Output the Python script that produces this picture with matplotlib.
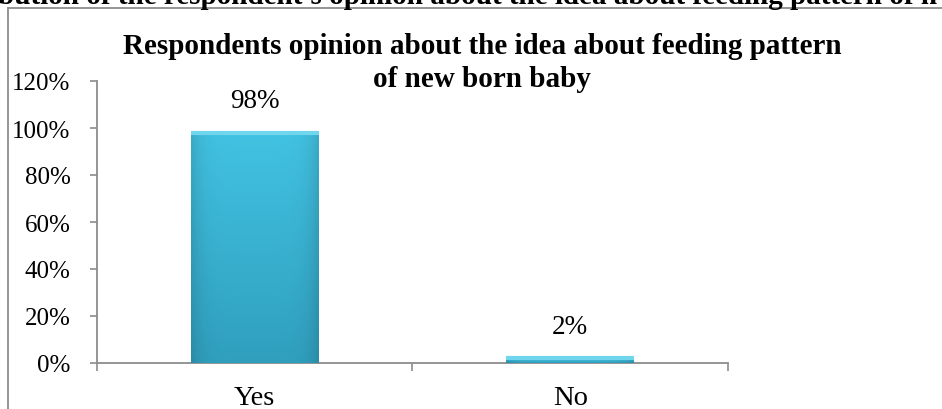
import numpy as np
import matplotlib
matplotlib.use("Agg")
import matplotlib.pyplot as plt
from matplotlib.lines import Line2D

# answers and share of respondents
categories = ["Yes", "No"]
shares = [0.98, 0.02]
share_labels = ["98%", "2%"]
yticks = [0, 0.2, 0.4, 0.6, 0.8, 1.0, 1.2]
ytick_labels = ["0%", "20%", "40%", "60%", "80%", "100%", "120%"]

title_lines = ["Respondents opinion about the idea about feeding pattern",
               "of new born baby"]
caption = "bution of the respondent's opinion about the idea about feeding pattern of n"

plt.rcParams["font.family"] = ["Liberation Serif", "DejaVu Serif"]
W, H = 942, 410
fig = plt.figure(figsize=(W / 100, H / 100), dpi=100)

# caption line running above the chart box (cut off by the page)
fig.text(-2 / W, 1 - 4 / H, caption, fontsize=21, fontweight="bold",
         ha="left", va="baseline")

# chart box frame
frame_col = "#8c8c8c"
fig.add_artist(Line2D([8 / W, 8 / W], [0, 1 - 9 / H], transform=fig.transFigure,
                      color=frame_col, lw=1.3))
fig.add_artist(Line2D([8 / W, 1], [1 - 9 / H, 1 - 9 / H], transform=fig.transFigure,
                      color=frame_col, lw=1.3))

# chart title, two centred lines
for line, ypix in zip(title_lines, [54, 87]):
    fig.text(482 / W, 1 - ypix / H, line, fontsize=21, fontweight="bold",
             ha="center", va="baseline")

ax = fig.add_axes([97 / W, 1 - 364 / H, (728 - 97) / W, (364 - 82) / H])
x = np.arange(len(categories))
bar_w = 0.405
bars = ax.bar(x, shares, width=bar_w, color="#3ab6d7", edgecolor="none", zorder=2)

# shaded fill for each bar: lighter at top, slightly darker at the sides
grad_v = np.linspace(1.0, 0.0, 64)[:, None]
grad_h = 1 - 0.12 * np.abs(np.linspace(-1, 1, 64))[None, :] ** 6
top = np.array([0x42, 0xc2, 0xe2]) / 255
bot = np.array([0x30, 0x9f, 0xbe]) / 255
img = (bot[None, None, :] + (top - bot)[None, None, :] * grad_v[..., None]) * grad_h[..., None]
for b in bars:
    x0, y0 = b.get_x(), b.get_y()
    im = ax.imshow(np.clip(img, 0, 1), extent=[x0, x0 + b.get_width(), y0, y0 + b.get_height()],
                   aspect="auto", zorder=3, interpolation="bilinear")
    im.set_clip_path(b)
    # light bevel along the top edge
    ax.plot([x0, x0 + b.get_width()], [b.get_height()] * 2, color="#6fd6ee",
            lw=3, solid_capstyle="butt", zorder=4)

for xi, v, lab in zip(x, shares, share_labels):
    ax.annotate(lab, (xi, v), xytext=(0, 14), textcoords="offset points",
                ha="center", va="bottom", fontsize=19.5)

ax.set_xlim(-0.5, len(categories) - 0.5)
ax.set_ylim(0, 1.2)
ax.set_yticks(yticks)
ax.set_yticklabels(ytick_labels)
ax.set_xticks(x)
ax.set_xticklabels(categories)
ax.set_xticks(np.arange(len(categories) + 1) - 0.5, minor=True)
ax.tick_params(axis="x", which="major", length=0, pad=16, labelsize=20.5)
ax.tick_params(axis="x", which="minor", length=5.5, color=frame_col, width=1.2)
ax.tick_params(axis="y", length=5, color=frame_col, width=1.2, pad=14, labelsize=18)

for s in ["top", "right"]:
    ax.spines[s].set_visible(False)
for s in ["left", "bottom"]:
    ax.spines[s].set_color(frame_col)
    ax.spines[s].set_linewidth(1.3)

fig.savefig("out.png", dpi=100)
